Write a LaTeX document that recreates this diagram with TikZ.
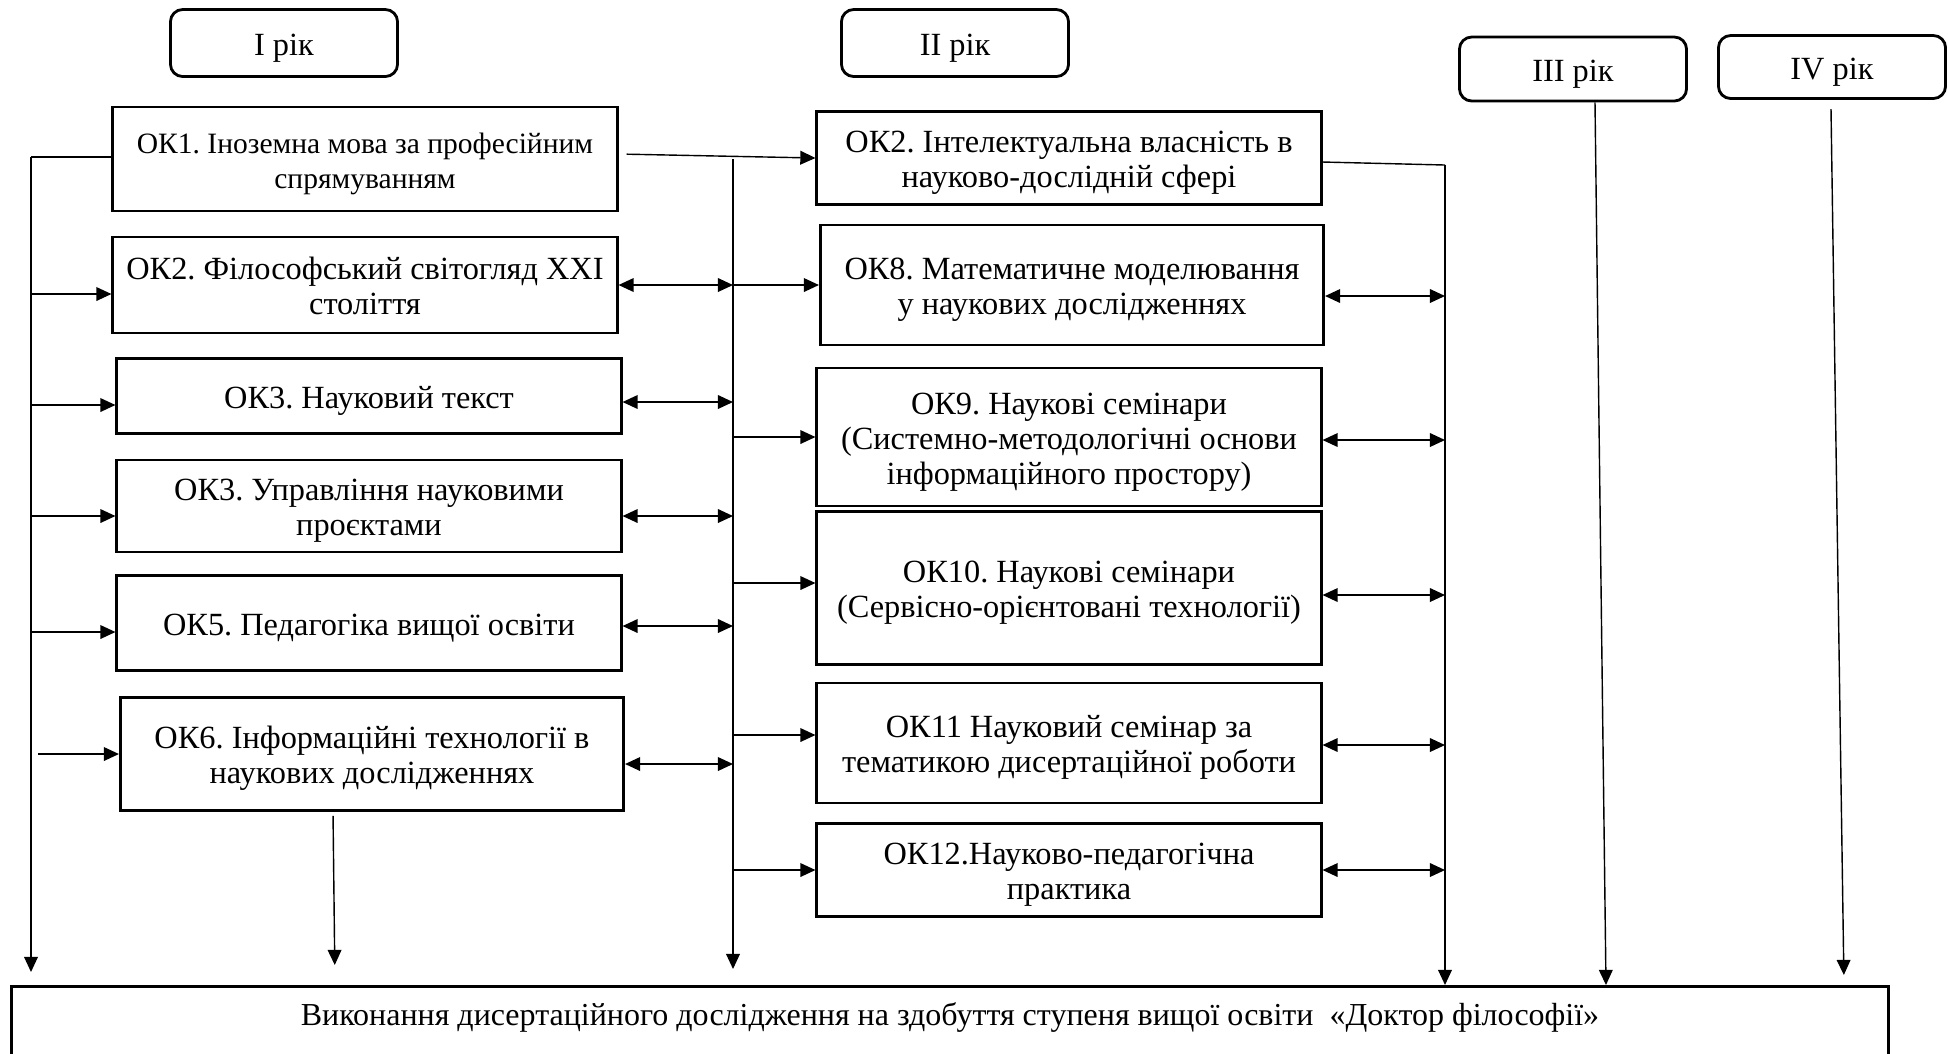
\documentclass[tikz,border=0pt]{standalone}
\usepackage{fontspec}
\setmainfont{Liberation Serif}
\frenchspacing
\usetikzlibrary{arrows.meta}
\tikzset{>={Triangle[length=4.3pt,width=3.9pt]}}
\tikzset{
	% boxes
	okbox/.style={draw,line width=0.8pt,align=flush center,text width=4.9cm,inner sep=0pt,font=\fontsize{9.2}{10}\selectfont,
		execute at begin node={\noindent\rule{0pt}{9.2pt}},execute at end node={\rule[-2.2pt]{0pt}{0pt}}},
	yearbox/.style={okbox,text width=2.1cm,rounded corners=3.5pt,minimum width=2.27cm},
	% connectors
	conn/.style={line width=0.4pt},
	arr/.style={conn,->},
	dbl/.style={conn,<->},
}

\begin{document}
\begin{tikzpicture}[x=0.01cm,y=-0.01cm]
	\useasboundingbox (0,0) rectangle (1948,1053);
	\clip (0,0) rectangle (1948,1053);
	
	% years
	\node[yearbox,minimum height=0.67cm] (yr1) at (284,43) {I рік};
	\node[yearbox,minimum height=0.67cm] (yr2) at (955,43) {II рік};
	\node[yearbox,minimum height=0.64cm] (yr3) at (1573,69) {III рік};
	\node[yearbox,minimum height=0.63cm] (yr4) at (1832,67) {IV рік};
	
	% first year
	\node[okbox,minimum width=5.04cm,minimum height=1.04cm,font=\fontsize{8.4}{10}\selectfont] (ok1) at (365,159) {ОК1. Іноземна мова за професійним\\спрямуванням};
	\node[okbox,minimum width=5.04cm,minimum height=0.96cm] (ok2f) at (365,285) {ОК2. Філософський світогляд XXI\\століття};
	\node[okbox,minimum width=5.04cm,minimum height=0.75cm] (ok3t) at (369,396) {ОК3. Науковий текст};
	\node[okbox,minimum width=5.04cm,minimum height=0.92cm] (ok3u) at (369,506) {ОК3. Управління науковими\\проєктами};
	\node[okbox,minimum width=5.04cm,minimum height=0.95cm] (ok5) at (369,623) {ОК5. Педагогіка вищої освіти};
	\node[okbox,minimum width=5.03cm,minimum height=1.13cm] (ok6) at (372,754) {ОК6. Інформаційні технології в\\наукових дослідженнях};
	
	% second year
	\node[okbox,minimum width=5.04cm,minimum height=0.93cm] (ok2i) at (1069,158) {ОК2. Інтелектуальна власність в\\науково-дослідній сфері};
	\node[okbox,minimum width=5.03cm,minimum height=1.20cm] (ok8) at (1072,285) {ОК8. Математичне моделювання\\у наукових дослідженнях};
	\node[okbox,minimum width=5.04cm,minimum height=1.38cm] (ok9) at (1069,437) {ОК9. Наукові семінари\\(Системно-методологічні основи\\інформаційного простору)};
	\node[okbox,minimum width=5.04cm,minimum height=1.53cm] (ok10) at (1069,588) {ОК10. Наукові семінари\\(Сервісно-орієнтовані технології)};
	\node[okbox,minimum width=5.04cm,minimum height=1.20cm] (ok11) at (1069,743) {ОК11 Науковий семінар за\\тематикою дисертаційної роботи};
	\node[okbox,minimum width=5.04cm,minimum height=0.93cm] (ok12) at (1069,870) {ОК12.Науково-педагогічна\\практика};
	
	% result
	\node[okbox,anchor=north,text width=18.5cm,minimum width=18.76cm,text height=0.29cm,text depth=1cm,inner ysep=0.1cm,font=\fontsize{9.1}{10}\selectfont] (res) at (950,985) {Виконання дисертаційного дослідження на здобуття ступеня вищої освіти~ «Доктор філософії»};
	
	% left bus
	\coordinate (lbT) at (31,157);
	\draw[conn] (ok1.west |- lbT) -- (lbT);
	\draw[arr,shorten >=1.3mm] (lbT) -- (lbT |- res.north);
	\draw[arr] (lbT |- 0,294) -- (ok2f.west |- 0,294);
	\draw[arr] (lbT |- 0,405) -- (ok3t.west |- 0,405);
	\draw[arr] (lbT |- 0,516) -- (ok3u.west |- 0,516);
	\draw[arr] (lbT |- 0,632) -- (ok5.west |- 0,632);
	\draw[arr,shorten <=0.7mm] (lbT |- ok6.west) -- (ok6.west);
	\draw[arr,shorten <=0.4mm,shorten >=2mm] (ok6.south -| 333,0) -- (335,0 |- res.north);
	
	% middle bus
	\coordinate (mbT) at (733,159);
	\draw[arr,shorten >=1.6mm] (mbT) -- (mbT |- res.north);
	\draw[arr,shorten <=0.8mm] (ok1.east |- 0,154) -- (ok2i.west);
	\draw[dbl] (ok2f.east) -- (mbT |- ok2f.east);
	\draw[dbl] (ok3t.east |- 0,402) -- (mbT |- 0,402);
	\draw[dbl] (ok3u.east |- 0,516) -- (mbT |- 0,516);
	\draw[dbl] (ok5.east |- 0,626) -- (mbT |- 0,626);
	\draw[dbl] (ok6.east |- 0,764) -- (mbT |- 0,764);
	\draw[arr] (mbT |- ok8.west) -- (ok8.west);
	\draw[arr] (mbT |- ok9.west) -- (ok9.west);
	\draw[arr] (mbT |- 0,583) -- (ok10.west |- 0,583);
	\draw[arr] (mbT |- 0,735) -- (ok11.west |- 0,735);
	\draw[arr] (mbT |- ok12.west) -- (ok12.west);
	
	% right bus
	\coordinate (rbT) at (1445,165);
	\draw[conn] (ok2i.east |- 0,162) -- (rbT);
	\draw[arr] (rbT) -- (rbT |- res.north);
	\draw[dbl] (ok8.east |- 0,296) -- (rbT |- 0,296);
	\draw[dbl] (ok9.east |- 0,440) -- (rbT |- 0,440);
	\draw[dbl] (ok10.east |- 0,595) -- (rbT |- 0,595);
	\draw[dbl] (ok11.east |- 0,745) -- (rbT |- 0,745);
	\draw[dbl] (ok12.east) -- (rbT |- ok12.east);
	
	% third and fourth year
	\draw[arr] (yr3.south -| 1595,0) -- (1606,0 |- res.north);
	\coordinate (y4T) at (1831,109);
	\draw[arr,shorten >=1mm] (y4T) -- (1844,0 |- res.north);
	
\end{tikzpicture}
\end{document}
